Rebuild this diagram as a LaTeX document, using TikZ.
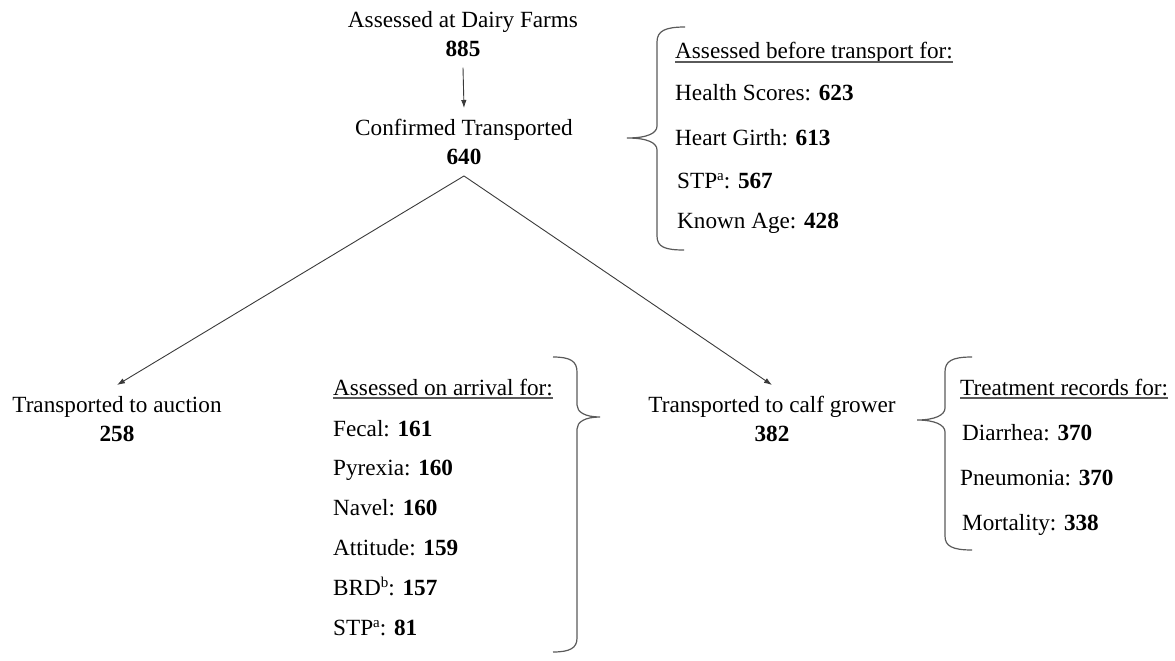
\documentclass[tikz,border=0pt]{standalone}
\usepackage{fontspec}
\setmainfont{Liberation Serif}
\usetikzlibrary{arrows.meta}
\definecolor{linegray}{HTML}{3A3A3A}
\definecolor{bracegray}{HTML}{5A5A5A}
\newcommand{\mysup}[1]{\raisebox{0.32em}{\fontsize{15pt}{15pt}\selectfont #1}}
\tikzset{
  every node/.style={font=\fontsize{23.2pt}{29pt}\selectfont, text=black},
  stagebox/.style={align=center, inner xsep=0pt, inner ysep=11pt, anchor=north},
  itembox/.style={inner sep=0pt, anchor=base west},
  flowarrow/.style={draw=linegray, line width=0.9pt, -{Latex[length=8pt,width=5.5pt]}},
  bracepath/.style={draw=bracegray, line width=1.2pt},
  uline/.style={draw=bracegray, line width=1.3pt}
}
\begin{document}
\begin{tikzpicture}[x=1pt,y=-1pt]
\useasboundingbox (0,0) rectangle (1175,661);

% stage nodes
\node[stagebox] (farms) at (463,0) {Assessed at Dairy Farms\\\textbf{885}};
\node[stagebox] (confirmed) at (464,108) {Confirmed Transported\\\textbf{640}};
\node[stagebox] (auction) at (117,385) {Transported to auction\\\textbf{258}};
\node[stagebox] (grower) at (772,385) {Transported to calf grower\\\textbf{382}};

\draw[flowarrow] (farms.south) -- (confirmed.north);
\draw[flowarrow] (confirmed.south) -- (auction.north);
\draw[flowarrow] (confirmed.south) -- (grower.north);

% list before transport
\node[itembox] (bthdr) at (675,59) {Assessed before transport for:};
\draw[uline] ([yshift=-3pt]bthdr.base west) -- ([yshift=-3pt]bthdr.base east);
\node[itembox] (bt1) at (675,100) {Health Scores: \textbf{623}};
\node[itembox] (bt2) at (675,145) {Heart Girth: \textbf{613}};
\node[itembox] (bt3) at (677,188) {STP\mysup{a}: \textbf{567}};
\node[itembox] (bt4) at (677,228) {Known Age: \textbf{428}};

% list on arrival
\node[itembox] (arhdr) at (333,395) {Assessed on arrival for:};
\draw[uline] ([yshift=-3pt]arhdr.base west) -- ([yshift=-3pt]arhdr.base east);
\node[itembox] (ar1) at (333,436) {Fecal: \textbf{161}};
\node[itembox] (ar2) at (333,475) {Pyrexia: \textbf{160}};
\node[itembox] (ar3) at (333,515) {Navel: \textbf{160}};
\node[itembox] (ar4) at (333,555) {Attitude: \textbf{159}};
\node[itembox] (ar5) at (333,595) {BRD\mysup{b}: \textbf{157}};
\node[itembox] (ar6) at (333,635) {STP\mysup{a}: \textbf{81}};

% treatment records
\node[itembox] (trhdr) at (960,395) {Treatment records for:};
\draw[uline] ([yshift=-3pt]trhdr.base west) -- ([yshift=-3pt]trhdr.base east);
\node[itembox] (tr1) at (962,440) {Diarrhea: \textbf{370}};
\node[itembox] (tr2) at (960,485) {Pneumonia: \textbf{370}};
\node[itembox] (tr3) at (962,530) {Mortality: \textbf{338}};

% braces
\draw[bracepath] (685,27) .. controls (665,27) and (657,31) .. (657,42) -- (657,126)
  .. controls (657,133) and (648,138) .. (627,138)
  .. controls (648,138) and (657,143) .. (657,150) -- (657,236)
  .. controls (657,247) and (665,250) .. (684,250);
\draw[bracepath] (553,357) .. controls (570,357) and (577,361) .. (577,372) -- (577,405)
  .. controls (577,412) and (585,417) .. (600,417)
  .. controls (585,417) and (577,422) .. (577,429) -- (577,638)
  .. controls (577,648) and (570,652) .. (553,652);
\draw[bracepath] (972,357) .. controls (952,357) and (945,361) .. (945,372) -- (945,408)
  .. controls (945,415) and (935,420) .. (917,420)
  .. controls (935,420) and (945,425) .. (945,432) -- (945,536)
  .. controls (945,546) and (952,550) .. (972,550);
\end{tikzpicture}
\end{document}
